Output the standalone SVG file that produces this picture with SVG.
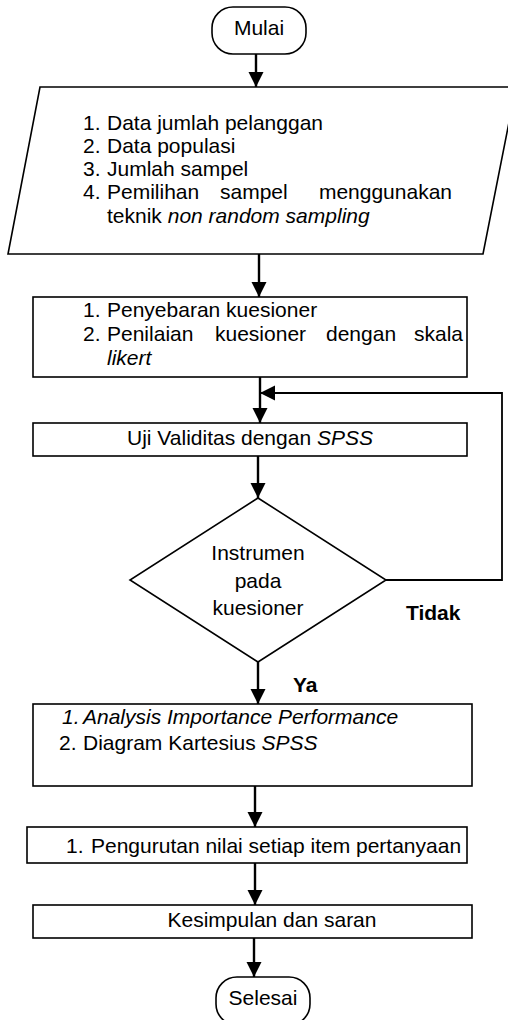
<svg xmlns="http://www.w3.org/2000/svg" width="508" height="1020" viewBox="0 0 508 1020">
<style>
.shape{fill:#fff;stroke:#000;stroke-width:1.6}
.t{font-family:"Liberation Sans",Arial,sans-serif;font-size:21px;fill:#000}
.c{text-anchor:middle}
.i{font-style:italic}
.b{font-weight:bold}
.conn{fill:none;stroke:#000;stroke-width:2.4}
</style>
<defs>
<marker id="ah" markerUnits="userSpaceOnUse" markerWidth="16" markerHeight="16" refX="15" refY="7.5" orient="auto">
<path d="M0,0 L15,7.5 L0,15 Z" fill="#000"/>
</marker>
</defs>
<rect width="508" height="1020" fill="#fff"/>
<g id="connectors">
<line class="conn" x1="256" y1="54" x2="256" y2="87" marker-end="url(#ah)"/>
<line class="conn" x1="259" y1="254" x2="259" y2="297" marker-end="url(#ah)"/>
<line class="conn" x1="260" y1="377" x2="260" y2="423" marker-end="url(#ah)"/>
<path class="conn" d="M386,580 H502 V393 H260" marker-end="url(#ah)" style="stroke-width:1.8"/>
<line class="conn" x1="258" y1="456" x2="258" y2="498" marker-end="url(#ah)"/>
<line class="conn" x1="258" y1="662" x2="258" y2="704" marker-end="url(#ah)"/>
<line class="conn" x1="255" y1="786" x2="255" y2="827" marker-end="url(#ah)"/>
<line class="conn" x1="255" y1="863" x2="255" y2="905" marker-end="url(#ah)"/>
<line class="conn" x1="254" y1="936" x2="254" y2="977" marker-end="url(#ah)"/>
</g>
<g id="mulai">
<rect class="shape" x="212" y="7" width="94" height="47" rx="21"/>
<text class="t c" x="259" y="35">Mulai</text>
</g>
<g id="input-data">
<polygon class="shape" points="40,87 516,87 483,254 8,254"/>
<text class="t"><tspan x="83" y="130">1.</tspan><tspan x="107" y="130">Data jumlah pelanggan</tspan></text>
<text class="t"><tspan x="83" y="153">2.</tspan><tspan x="107" y="153">Data populasi</tspan></text>
<text class="t"><tspan x="83" y="176">3.</tspan><tspan x="107" y="176">Jumlah sampel</tspan></text>
<text class="t"><tspan x="83" y="199">4.</tspan><tspan x="107" y="199">Pemilihan</tspan><tspan x="220" y="199">sampel</tspan></text>
<text class="t" x="452" y="199" text-anchor="end">menggunakan</text>
<text class="t" x="107" y="223">teknik <tspan class="i">non random sampling</tspan></text>
</g>
<g id="kuesioner">
<rect class="shape" x="33" y="297" width="434" height="80"/>
<text class="t"><tspan x="83" y="317">1.</tspan><tspan x="107" y="317">Penyebaran kuesioner</tspan></text>
<text class="t"><tspan x="83" y="341">2.</tspan><tspan x="107" y="341">Penilaian</tspan><tspan x="215" y="341">kuesioner</tspan><tspan x="326" y="341">dengan</tspan></text>
<text class="t" x="463" y="341" text-anchor="end">skala</text>
<text class="t i" x="107" y="365">likert</text>
</g>
<g id="uji-validitas">
<rect class="shape" x="33" y="423" width="434" height="33"/>
<text class="t c" x="250" y="445">Uji Validitas dengan <tspan class="i">SPSS</tspan></text>
</g>
<g id="keputusan">
<polygon class="shape" points="258,498 386,580 258,662 130,580"/>
<text class="t c" x="258" y="560">Instrumen</text>
<text class="t c" x="258" y="588">pada</text>
<text class="t c" x="258" y="615">kuesioner</text>
</g>
<text class="t b" x="406" y="620">Tidak</text>
<text class="t b" x="293" y="692">Ya</text>
<g id="analisis">
<rect class="shape" x="33" y="704" width="439" height="82"/>
<text class="t i"><tspan x="62" y="724">1.</tspan><tspan x="83" y="724">Analysis Importance Performance</tspan></text>
<text class="t"><tspan x="59" y="750">2.</tspan><tspan x="83" y="750">Diagram Kartesius <tspan class="i">SPSS</tspan></tspan></text>
</g>
<g id="pengurutan">
<rect class="shape" x="27" y="827" width="440" height="36"/>
<text class="t"><tspan x="66" y="853">1.</tspan><tspan x="91" y="853">Pengurutan nilai setiap item pertanyaan</tspan></text>
</g>
<g id="kesimpulan">
<rect class="shape" x="33" y="905" width="439" height="33"/>
<text class="t c" x="272" y="927">Kesimpulan dan saran</text>
</g>
<g id="selesai">
<rect class="shape" x="216" y="977" width="94" height="48" rx="21"/>
<text class="t c" x="263" y="1005">Selesai</text>
</g>
</svg>
